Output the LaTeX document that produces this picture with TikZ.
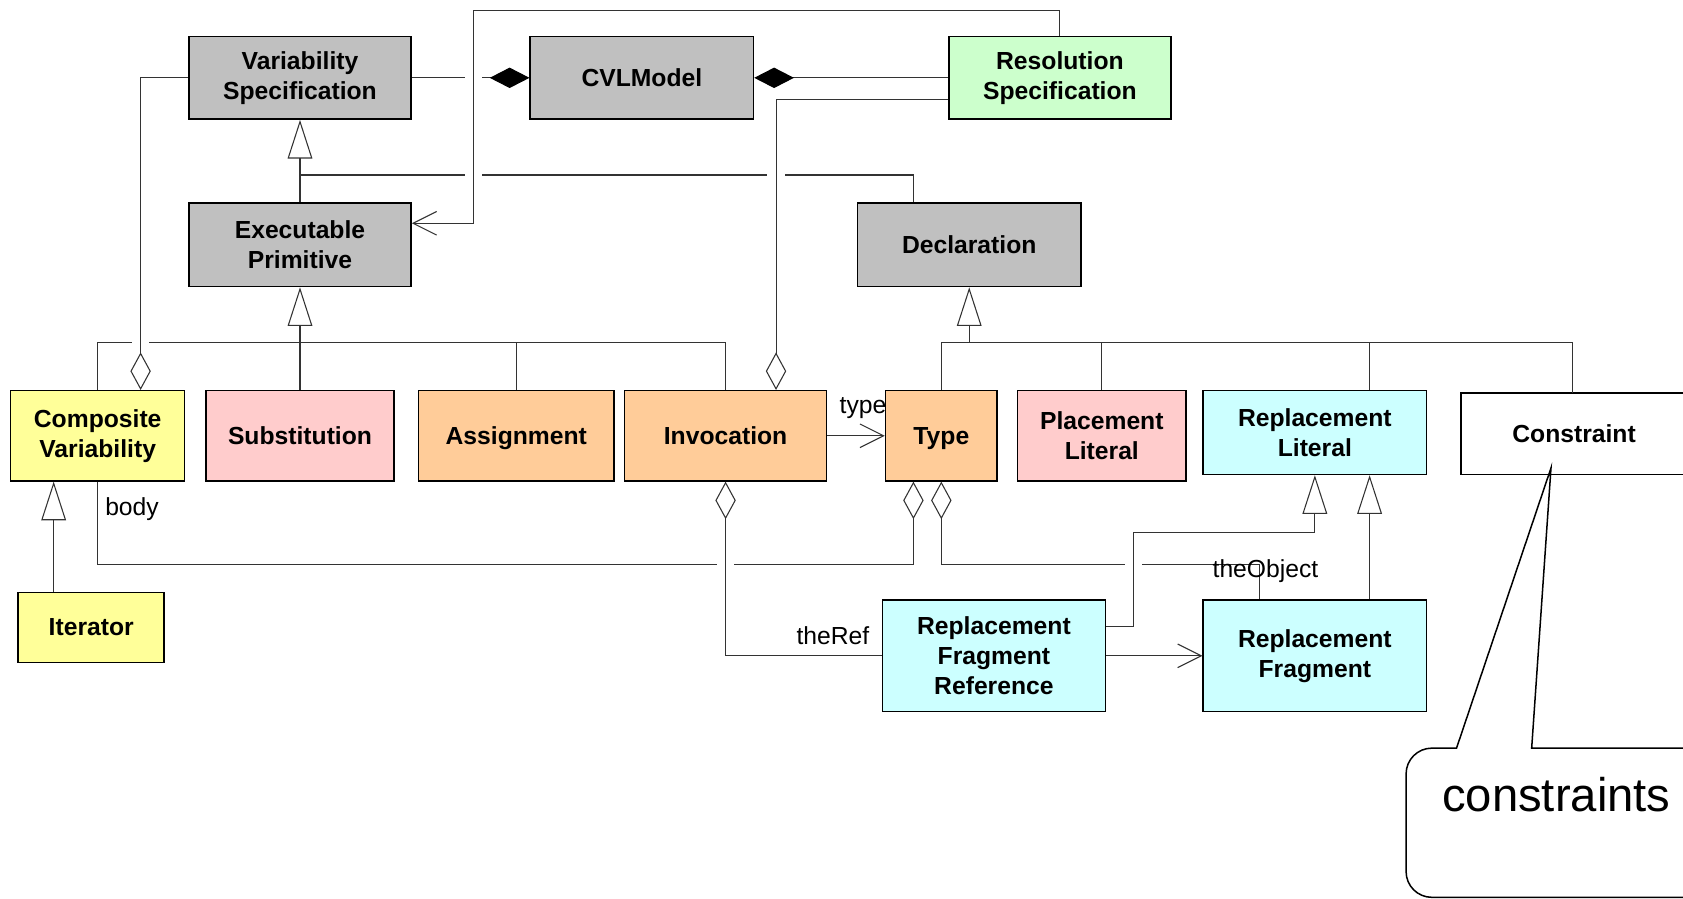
\documentclass[tikz,border=0pt]{standalone}
\usepackage{fontspec}
\setmainfont{Liberation Sans}
\usetikzlibrary{arrows.meta}
\definecolor{clsgray}{HTML}{C0C0C0}
\definecolor{clsgreen}{HTML}{CCFFCC}
\definecolor{clsyellow}{HTML}{FFFF99}
\definecolor{clspink}{HTML}{FFCCCC}
\definecolor{clsorange}{HTML}{FFCC99}
\definecolor{clscyan}{HTML}{CCFFFF}
\newcommand{\hop}[2]{\fill[white] (#1,#2) ++(-8,-3) rectangle ++(16,6);}
\tikzset{
  cls/.style={draw, rectangle, line width=0.7pt, inner sep=0pt, align=center,
    font=\bfseries\fontsize{11.5}{14}\selectfont},
  oneline/.style={text depth=0pt},
  link/.style={draw=black!80, line width=0.5pt},
  gen/.style={link, -{Triangle[open, length=18pt, width=11.5pt]}},
  comp/.style={link, -{Diamond[length=18.5pt, width=9.5pt, black]}},
  agg/.style={link, -{Diamond[open, length=17.5pt, width=9.5pt]}},
  aggfrom/.style={link, {Diamond[open, length=17.5pt, width=9.5pt]}-},
  nav/.style={link, -{Straight Barb[length=11pt, width=11pt]}},
  role/.style={inner sep=0pt, font=\fontsize{11.5}{14}\selectfont},
}
\begin{document}
\begin{tikzpicture}[x=0.5pt, y=-0.5pt]
	\useasboundingbox (0,0) rectangle (1568,837);
	\clip (0,0) rectangle (1568,837);

	% classes
	\node[cls, fill=clsgray, minimum width=103.5pt, minimum height=38.5pt] (varspec) at (279.5,72.5) {Variability\\Specification};
	\node[cls, fill=clsgray, minimum width=104pt, minimum height=38.5pt] (cvl) at (598,72.5) {CVLModel};
	\node[cls, fill=clsgreen, minimum width=103.5pt, minimum height=38.5pt] (resspec) at (987.5,72.5) {Resolution\\Specification};
	\node[cls, fill=clsgray, minimum width=103.5pt, minimum height=39pt] (execprim) at (279.5,228) {Executable\\Primitive};
	\node[cls, fill=clsgray, minimum width=104pt, minimum height=39pt] (decl) at (903,228) {Declaration};
	\node[cls, fill=clsyellow, minimum width=81pt, minimum height=42pt] (compvar) at (91,406) {Composite\\Variability};
	\node[cls, fill=clspink, minimum width=87.5pt, minimum height=42pt] (subst) at (279.5,406) {Substitution};
	\node[cls, oneline, fill=clsorange, minimum width=91pt, minimum height=42pt] (assign) at (481,406) {Assignment};
	\node[cls, fill=clsorange, minimum width=94pt, minimum height=42pt] (invoc) at (676,406) {Invocation};
	\node[cls, oneline, fill=clsorange, minimum width=52pt, minimum height=42pt] (type) at (877,406) {Type};
	\node[cls, fill=clspink, minimum width=78.5pt, minimum height=42pt] (placelit) at (1026.5,406) {Placement\\Literal};
	\node[cls, fill=clscyan, minimum width=104pt, minimum height=39pt] (repllit) at (1225,403) {Replacement\\Literal};
	\node[cls, fill=white, minimum width=105.5pt, minimum height=38pt] (constraint) at (1466.5,404) {Constraint};
	\node[cls, fill=clsyellow, minimum width=68pt, minimum height=32.5pt] (iterator) at (85,584.5) {Iterator};
	\node[cls, fill=clscyan, minimum width=104pt, minimum height=52pt] (rfr) at (926,611) {Replacement\\Fragment\\Reference};
	\node[cls, fill=clscyan, minimum width=104pt, minimum height=52pt] (rf) at (1225,611) {Replacement\\Fragment};

	\coordinate (vsjoin) at (279.5,163);
	\coordinate (epjoin) at (279.5,319);
	\coordinate (dcjoin) at (903,319);

	% lines that are crossed
	\draw[comp] (varspec.east) -- (cvl.west);
	\draw[link] ([xshift=-26pt]decl.north) |- (vsjoin);
	\draw[link] (compvar.north) |- (epjoin) -| (invoc.north);
	\draw[agg] (compvar.south) -- ++(0,77) -| ([xshift=-13pt]type.south);
	\draw[aggfrom] (type.south) -- ++(0,77) -| ([xshift=-26pt]rf.north);

	\hop{441}{72}
	\hop{441}{163}
	\hop{723}{163}
	\hop{131}{319}
	\hop{676}{525}
	\hop{1056}{525}

	% lines that cross
	\draw[nav] (resspec.north) |- (441,10) |- ([yshift=10pt]execprim.east);
	\draw[agg] ([yshift=-10pt]resspec.west) -| ([xshift=23.5pt]invoc.north);
	\draw[agg] (varspec.west) -| ([xshift=20pt]compvar.north);
	\draw[aggfrom] (invoc.south) |- (rfr.west);
	\draw[gen] ([yshift=13.5pt]rfr.east) -| (1056,496) -| (repllit.south);

	% the rest
	\draw[comp] (resspec.west) -- (cvl.east);
	\draw[gen] (execprim.north) -- (varspec.south);
	\draw[link] (subst.north) -- (epjoin);
	\draw[link] (assign.north) -- (assign.north |- epjoin);
	\draw[gen] (epjoin) -- (execprim.south);
	\draw[link] (type.north) |- (dcjoin) -| (1465,366);
	\draw[link] (placelit.north) -- (placelit.north |- dcjoin);
	\draw[link] ([xshift=25.5pt]repllit.north) -- ([xshift=25.5pt]repllit.north |- dcjoin);
	\draw[gen] (dcjoin) -- (decl.south);
	\draw[gen] (iterator.north) ++(-35,0) coordinate (itup) -- (itup |- compvar.south);
	\draw[nav] (invoc.east) -- (type.west);
	\draw[nav] (rfr.east) -- (rf.west);
	\draw[gen] ([xshift=25.5pt]rf.north) -- ([xshift=25.5pt]repllit.south);

	% role names
	\node[role] (body) at (123,474) {body};
	\node[role] (typerole) at (804,380) {type};
	\node[role] (theref) at (776,592) {theRef};
	\node[role] (theobject) at (1179,532) {theObject};

	% note
	\draw[line width=0.7pt, fill=white] (1445,436) -- (1427,697) [rounded corners=12pt] -- (1620,697) -- (1620,836) -- (1310,836) -- (1310,697) [sharp corners] -- (1357,697) -- cycle;
	\node[inner sep=0pt, font=\fontsize{22}{26}\selectfont] (note) at (1450,740) {constraints};
\end{tikzpicture}
\end{document}
